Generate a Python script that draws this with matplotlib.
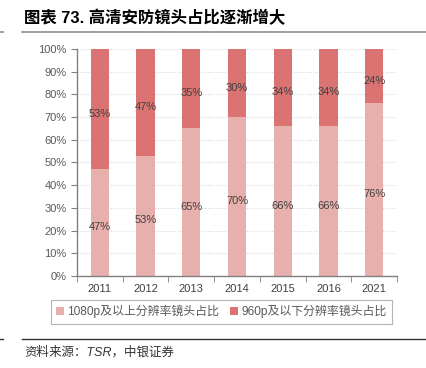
import matplotlib
matplotlib.use('Agg')
import matplotlib.pyplot as plt
import numpy as np

plt.rcParams['font.family'] = ['Liberation Sans', 'Noto Sans CJK SC', 'DejaVu Sans']

# data
years = ['2011', '2012', '2013', '2014', '2015', '2016', '2021']
high_res = [47, 53, 65, 70, 66, 66, 76]   # 1080p及以上
low_res = [53, 47, 35, 30, 34, 34, 24]    # 960p及以下
labels = ['1080p及以上分辨率镜头占比', '960p及以下分辨率镜头占比']

c_light = '#E8B0AC'
c_dark = '#DA7372'
grey = '#808080'

fig = plt.figure(figsize=(4.27, 3.68), dpi=100)
ax = fig.add_axes([0.180, 0.25, 0.750, 0.617])

x = np.arange(len(years))
b1 = ax.bar(x, high_res, width=0.4, color=c_light, label=labels[0], zorder=2)
b2 = ax.bar(x, low_res, width=0.4, bottom=high_res, color=c_dark, label=labels[1], zorder=2)

for i in range(len(years)):
    ax.text(x[i], high_res[i] / 2 - 2, f'{high_res[i]}%', ha='center', va='center',
            fontsize=8, color='#404040', zorder=3)
    ax.text(x[i], high_res[i] + low_res[i] / 2 - 2, f'{low_res[i]}%', ha='center', va='center',
            fontsize=8, color='#404040', zorder=3)

ax.set_xlim(-0.5, len(years) - 0.5)
ax.set_ylim(0, 100)
ax.set_yticks(np.arange(0, 101, 10))
ax.set_yticklabels([f'{v}%' for v in range(0, 101, 10)])
ax.set_xticks(x)
ax.set_xticklabels(years)
ax.set_xticks(np.arange(-0.5, len(years), 1), minor=True)
ax.tick_params(axis='x', which='major', length=0, pad=6, labelsize=8, labelcolor='#404040')
ax.tick_params(axis='x', which='minor', length=4, color=grey, direction='out')
ax.tick_params(axis='y', length=4, color=grey, labelsize=8, labelcolor='#595959')

ax.yaxis.grid(True, linestyle=(0, (1, 1.5)), color='#D8D8D8', linewidth=0.8, zorder=0)
for s in ['top', 'right']:
    ax.spines[s].set_visible(False)
for s in ['left', 'bottom']:
    ax.spines[s].set_color(grey)
    ax.spines[s].set_linewidth(1.0)

leg = fig.legend(handles=[b1, b2], loc='center', bbox_to_anchor=(0.518, 0.153), ncol=2,
                 fontsize=8.6, frameon=True, fancybox=False, edgecolor='#A0A0A0',
                 handlelength=0.7, handleheight=0.7, handletextpad=0.25, columnspacing=0.9,
                 borderpad=0.45, labelcolor='#595959')
leg.get_frame().set_linewidth(0.8)

# title and lines
fig.text(0.056, 0.952, '图表 73. 高清安防镜头占比逐渐增大', fontsize=11.8, fontweight='bold',
         ha='left', va='center', color='black')
fig.add_artist(plt.Line2D([0.052, 1.0], [0.913, 0.913], color='#8C8C8C', linewidth=1.2))
fig.add_artist(plt.Line2D([0.0, 0.008], [0.913, 0.913], color='#8C8C8C', linewidth=1.2))
fig.add_artist(plt.Line2D([0.052, 1.0], [0.079, 0.079], color='#333333', linewidth=1.0))
fig.add_artist(plt.Line2D([0.0, 0.008], [0.079, 0.079], color='#333333', linewidth=1.0))
fig.text(0.056, 0.043, '资料来源：TSR，中银证券', fontsize=9, style='italic',
         ha='left', va='center', color='#333333')

fig.savefig('out.png', dpi=100)
